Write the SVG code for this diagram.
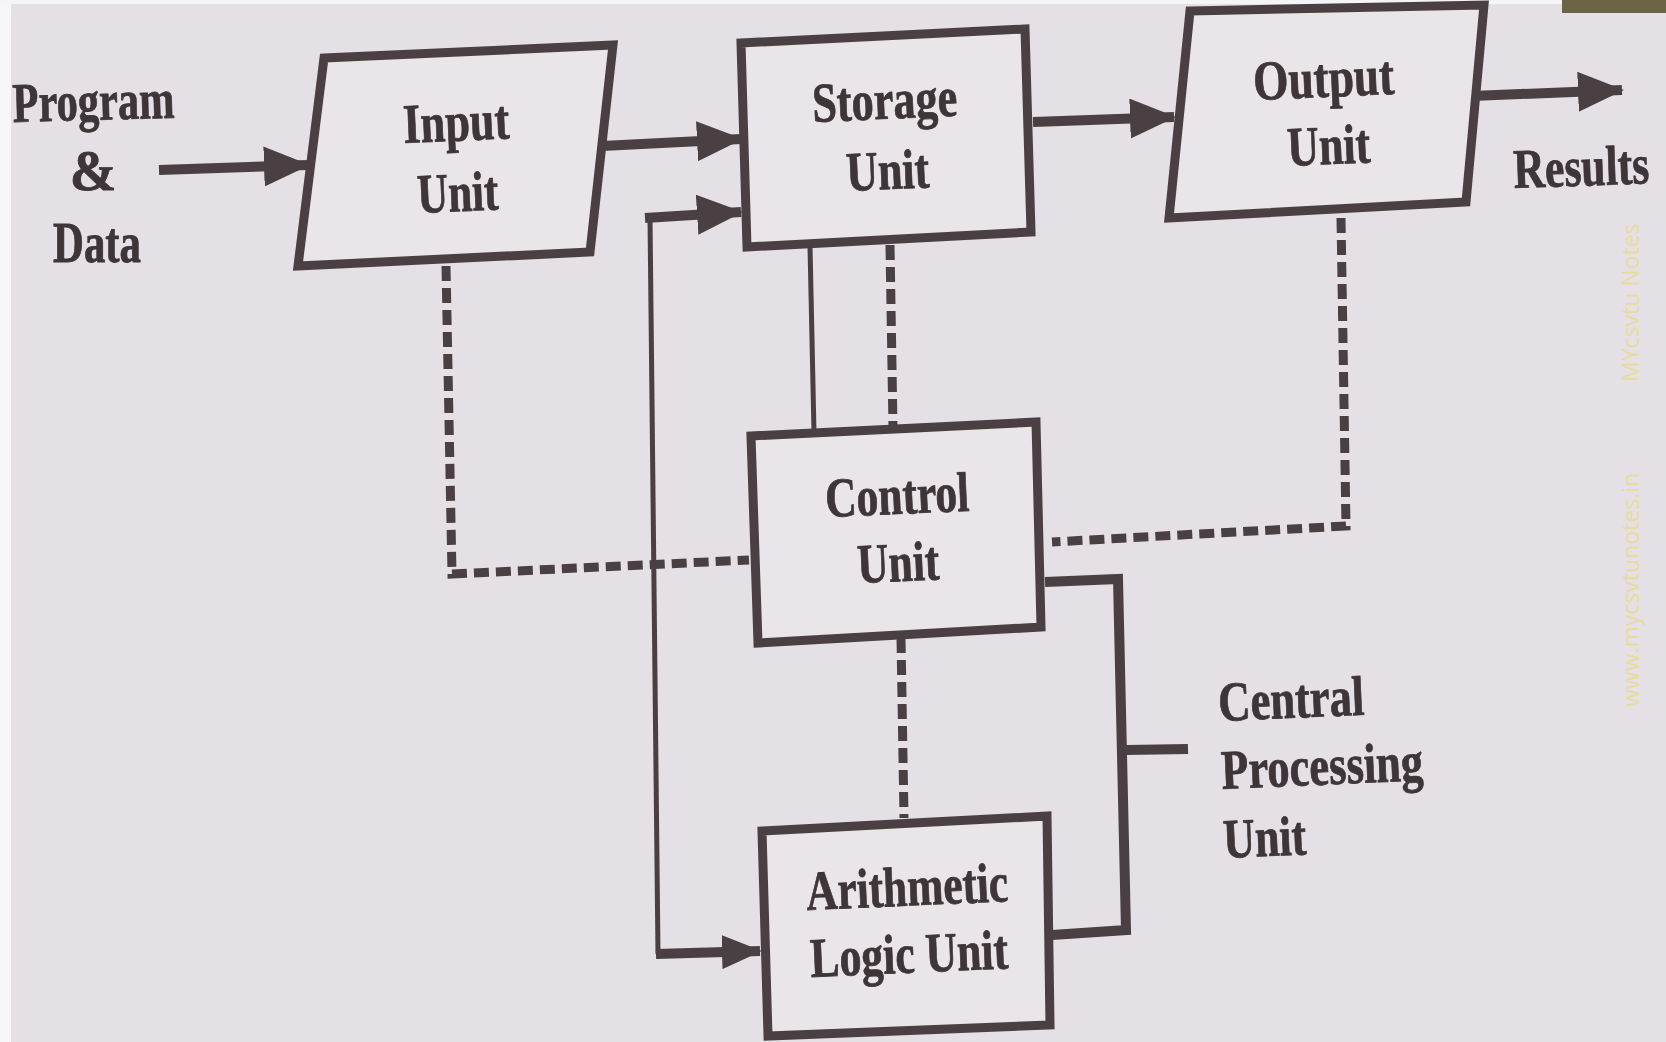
<svg xmlns="http://www.w3.org/2000/svg" width="1666" height="1042" viewBox="0 0 1666 1042">
<defs>
<style>
.bg{fill:#e4e0e6}
.box{fill:#e9e5e8;stroke:#4a4044;stroke-width:9;stroke-linejoin:miter}
.thick{fill:none;stroke:#4a4044;stroke-width:10}
.thin{fill:none;stroke:#4a4044;stroke-width:5}
.dash{fill:none;stroke:#4a4044;stroke-width:9;stroke-dasharray:15 7}
.lbl{font-family:"Liberation Serif","Times New Roman",serif;font-weight:bold;font-size:56px;fill:#3d3538;stroke:#3d3538;stroke-width:0.8}
.wm{font-family:"Open Sans","Noto Sans",sans-serif;font-size:23px;fill:#e6dc9c}
</style>
<marker id="ah" markerUnits="userSpaceOnUse" markerWidth="46" markerHeight="40" refX="44" refY="20" orient="auto">
<path d="M0,0 L46,20 L0,40 z" fill="#4a4044"/>
</marker>
<marker id="ahs" markerUnits="userSpaceOnUse" markerWidth="40" markerHeight="34" refX="38" refY="17" orient="auto">
<path d="M0,0 L40,17 L0,34 z" fill="#4a4044"/>
</marker>
</defs>
<rect class="bg" x="0" y="0" width="1666" height="1042"/>
<rect x="0" y="0" width="11" height="1042" fill="#f7f6f8"/>
<rect x="0" y="0" width="1562" height="4" fill="#f5f4f6"/>
<rect x="1562" y="0" width="104" height="13" fill="#6c6446"/>

<g id="connectors">
<path class="thick" d="M159,170 L308,165" marker-end="url(#ah)"/>
<path class="thick" d="M602,146 L741,139" marker-end="url(#ah)"/>
<path class="thick" d="M1033,122 L1174,117" marker-end="url(#ah)"/>
<path class="thick" d="M1472,96 L1622,90" marker-end="url(#ah)"/>
<path class="thin" d="M650,218 L658,954"/>
<path class="thick" d="M645,218 L741,212" marker-end="url(#ah)"/>
<path class="thick" d="M656,954 L760,951" marker-end="url(#ahs)"/>
<path class="thin" d="M810,246 L814,432"/>
<path class="dash" d="M890,245 L893,428"/>
<path class="dash" d="M446,266 L452,574 L749,560"/>
<path class="dash" d="M1341,218 L1346,526 L1052,542"/>
<path class="dash" d="M901,638 L904,818"/>
<path class="thick" d="M1045,582 L1118,579 L1126,930 L1052,935"/>
<path class="thick" d="M1126,750 L1188,749"/>
</g>

<g id="input-unit">
<polygon class="box" points="324,58 613,45 590,252 298,266"/>
<text class="lbl" x="404" y="143" textLength="106" lengthAdjust="spacingAndGlyphs" transform="rotate(-2.5 404 143)">Input</text>
<text class="lbl" x="418" y="213" textLength="81" lengthAdjust="spacingAndGlyphs" transform="rotate(-2.5 418 213)">Unit</text>
</g>

<g id="storage-unit">
<polygon class="box" points="741,43 1025,29 1031,232 747,247"/>
<text class="lbl" x="813" y="122" textLength="145" lengthAdjust="spacingAndGlyphs" transform="rotate(-2.5 813 122)">Storage</text>
<text class="lbl" x="847" y="191" textLength="83" lengthAdjust="spacingAndGlyphs" transform="rotate(-2.5 847 191)">Unit</text>
</g>

<g id="output-unit">
<polygon class="box" points="1190,11 1484,5 1466,202 1169,218"/>
<text class="lbl" x="1254" y="100" textLength="141" lengthAdjust="spacingAndGlyphs" transform="rotate(-2.5 1254 100)">Output</text>
<text class="lbl" x="1288" y="166" textLength="83" lengthAdjust="spacingAndGlyphs" transform="rotate(-2.5 1288 166)">Unit</text>
</g>

<g id="control-unit">
<polygon class="box" points="751,436 1036,422 1041,627 758,643"/>
<text class="lbl" x="826" y="517" textLength="144" lengthAdjust="spacingAndGlyphs" transform="rotate(-2.5 826 517)">Control</text>
<text class="lbl" x="858" y="583" textLength="82" lengthAdjust="spacingAndGlyphs" transform="rotate(-2.5 858 583)">Unit</text>
</g>

<g id="alu">
<polygon class="box" points="762,831 1047,816 1050,1025 768,1036"/>
<text class="lbl" x="807" y="910" textLength="202" lengthAdjust="spacingAndGlyphs" transform="rotate(-2.5 807 910)">Arithmetic</text>
<text class="lbl" x="811" y="977" textLength="198" lengthAdjust="spacingAndGlyphs" transform="rotate(-2.5 811 977)">Logic Unit</text>
</g>

<g id="program-data">
<text class="lbl" x="13" y="122" textLength="162" lengthAdjust="spacingAndGlyphs" transform="rotate(-1.5 13 122)">Program</text>
<text class="lbl" x="93" y="190" text-anchor="middle">&amp;</text>
<text class="lbl" x="53" y="262" textLength="88" lengthAdjust="spacingAndGlyphs">Data</text>
</g>

<g id="results">
<text class="lbl" x="0" y="0" transform="translate(1514 188) rotate(-2) scale(0.78 1)">Results</text>
</g>

<g id="cpu-label">
<text class="lbl" x="1219" y="721" textLength="146" lengthAdjust="spacingAndGlyphs" transform="rotate(-2.5 1219 721)">Central</text>
<text class="lbl" x="1222" y="789" textLength="202" lengthAdjust="spacingAndGlyphs" transform="rotate(-2.5 1222 789)">Processing</text>
<text class="lbl" x="1224" y="858" textLength="83" lengthAdjust="spacingAndGlyphs" transform="rotate(-2.5 1224 858)">Unit</text>
</g>

<g id="watermark">
<text class="wm" transform="translate(1639 382) rotate(-90)">MYcsvtu Notes</text>
<text class="wm" transform="translate(1639 707) rotate(-90)">www.mycsvtunotes.in</text>
</g>
</svg>
